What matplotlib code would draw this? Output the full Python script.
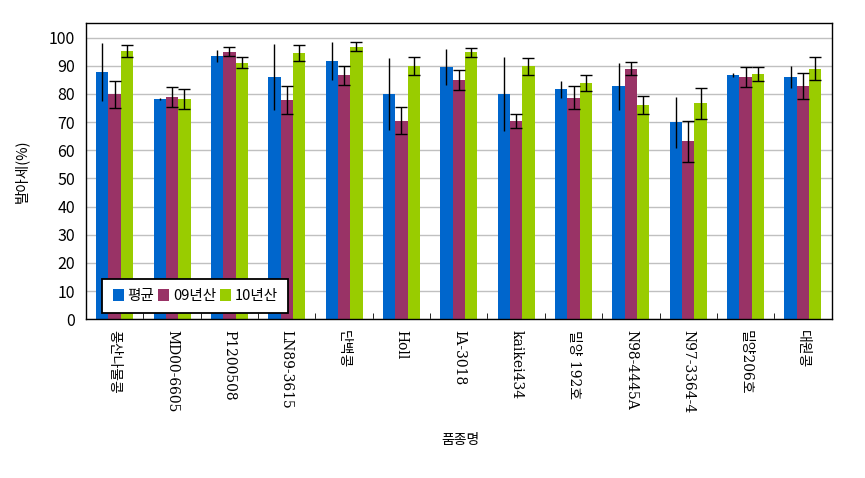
import numpy as np
import matplotlib
matplotlib.use('Agg')
import matplotlib.pyplot as plt

plt.rcParams['font.family'] = ['Noto Sans CJK KR', 'DejaVu Sans']

varieties = ['풍산나물콩', 'MD00-6605', 'P1200508', 'LN89-3615', '단백콩', 'Holl',
             'IA-3018', 'kaikei434', '밀양 192호', 'N98-4445A', 'N97-3364-4',
             '밀양206호', '대원콩']

avg = [87.8, 78.2, 93.4, 86.0, 91.7, 80.0, 89.6, 80.0, 81.7, 82.7, 69.9, 86.6, 86.0]
avg_err = [10.2, 0.3, 2.0, 11.7, 6.8, 12.7, 6.4, 13.2, 3.0, 8.4, 9.0, 0.7, 4.0]

y09 = [79.9, 78.9, 94.9, 77.8, 86.6, 70.4, 84.9, 70.4, 78.7, 89.0, 63.2, 86.0, 82.7]
y09_err = [4.8, 3.5, 1.6, 5.0, 3.4, 4.8, 3.4, 2.5, 4.0, 2.4, 7.3, 3.7, 4.6]

y10 = [95.1, 78.3, 91.1, 94.5, 96.7, 89.8, 94.7, 89.8, 83.9, 76.1, 76.6, 87.2, 89.0]
y10_err = [2.1, 3.5, 1.9, 2.7, 1.6, 3.2, 1.5, 3.0, 2.8, 3.1, 5.4, 2.5, 4.0]

fig = plt.figure(figsize=(8.65, 4.78), dpi=100)
ax = fig.add_axes([0.0994, 0.332, 0.862, 0.619])

x = np.arange(len(varieties))
w = 0.215

ax.bar(x - w, avg, w, color='#0066CC', label='평균', zorder=2)
ax.bar(x, y09, w, color='#993366', label='09년산', zorder=2)
ax.bar(x + w, y10, w, color='#99CC00', label='10년산', zorder=2)

ax.errorbar(x - w, avg, yerr=avg_err, fmt='none', ecolor='black',
            elinewidth=1, capsize=0, zorder=3)
ax.errorbar(x, y09, yerr=y09_err, fmt='none', ecolor='black',
            elinewidth=1, capsize=4.5, capthick=1, zorder=3)
ax.errorbar(x + w, y10, yerr=y10_err, fmt='none', ecolor='black',
            elinewidth=1, capsize=4.5, capthick=1, zorder=3)

ax.set_xlim(-0.5, len(varieties) - 0.5)
ax.set_ylim(0, 105)
ax.set_yticks(range(0, 101, 10))
ax.yaxis.grid(True, color='#c0c0c0', linewidth=1, zorder=0)
ax.set_axisbelow(True)
ax.tick_params(axis='y', length=0, labelsize=11.5, pad=8)

ax.set_xticks(x)
ax.set_xticklabels(varieties, rotation=-90, fontsize=10, family=['DejaVu Serif', 'Noto Sans CJK KR'])
ax.tick_params(axis='x', length=0, pad=8)
ax.set_xticks(np.arange(-0.5, len(varieties)), minor=True)
ax.tick_params(axis='x', which='minor', direction='in', length=4, color='black')

for s in ax.spines.values():
    s.set_color('black')
    s.set_linewidth(1)

ax.set_ylabel('발아세(%)', fontsize=10.5, labelpad=14)
fig.text(0.532, 0.08, '품종명', ha='center', va='center', fontsize=10)

leg = ax.legend(loc='lower left', bbox_to_anchor=(0.022, 0.02), ncol=3,
                frameon=True, fancybox=False, fontsize=10.5, handlelength=0.75,
                handleheight=0.9, handletextpad=0.25, columnspacing=0.3,
                borderpad=0.7, borderaxespad=0)
leg.get_frame().set_edgecolor('black')
leg.get_frame().set_linewidth(1.3)
leg.get_frame().set_alpha(1)

plt.savefig('out.png', dpi=100)
